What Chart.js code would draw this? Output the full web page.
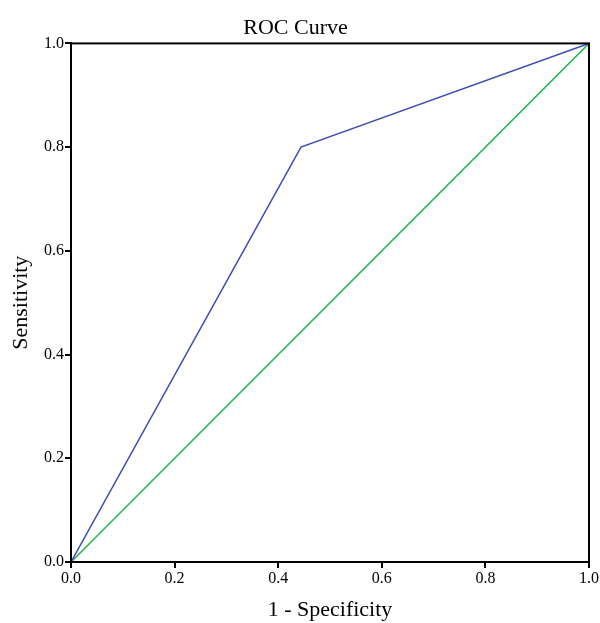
<!DOCTYPE html>
<html>
<head>
<meta charset="utf-8">
<script src="https://cdn.jsdelivr.net/npm/chart.js@4"></script>
<style>
  html, body { margin: 0; padding: 0; background: #fff; }
  #wrap { width: 600px; height: 623px; }
</style>
</head>
<body>
<div id="wrap"><canvas id="rocChart"></canvas></div>
<script>
// ROC curve data
const fpr = [0, 0.444, 1];          // 1 - Specificity
const tpr = [0, 0.8, 1];            // Sensitivity
const refX = [0, 1];                // diagonal reference
const refY = [0, 1];
const tickValues = [0, 0.2, 0.4, 0.6, 0.8, 1.0];

const FONT = "'Liberation Serif', 'DejaVu Serif', serif";

const frame = {
  id: 'frame',
  afterDraw(chart) {
    const a = chart.chartArea, c = chart.ctx;
    c.save();
    c.strokeStyle = '#000';
    c.lineWidth = 2;
    c.strokeRect(a.left, a.top, a.right - a.left, a.bottom - a.top);
    c.restore();
  }
};

new Chart(document.getElementById('rocChart'), {
  type: 'scatter',
  data: {
    datasets: [
      {
        label: 'ROC',
        data: fpr.map((x, i) => ({ x: x, y: tpr[i] })),
        showLine: true,
        borderColor: '#3f4cb3',
        borderWidth: 1.5,
        pointRadius: 0,
        order: 1
      },
      {
        label: 'Reference',
        data: refX.map((x, i) => ({ x: x, y: refY[i] })),
        showLine: true,
        borderColor: '#22b14c',
        borderWidth: 1.5,
        pointRadius: 0,
        order: 2
      }
    ]
  },
  options: {
    responsive: true,
    maintainAspectRatio: false,
    animation: false,
    layout: { padding: { left: 0, right: 9, top: 0, bottom: 0 } },
    plugins: {
      legend: { display: false },
      tooltip: { enabled: false },
      title: {
        display: true,
        text: 'ROC Curve',
        color: '#000',
        font: { family: FONT, size: 22, weight: 'normal' },
        padding: { top: 15, bottom: 2 }
      }
    },
    scales: {
      x: {
        type: 'linear',
        min: 0, max: 1,
        afterBuildTicks: s => { s.ticks = tickValues.map(v => ({ value: v })); },
        afterFit: s => { s.height = 61; },
        ticks: {
          color: '#000',
          font: { family: FONT, size: 16 },
          padding: 1,
          maxRotation: 0,
          callback: v => v.toFixed(1)
        },
        grid: { drawOnChartArea: false, drawTicks: true, tickLength: 6, color: '#000', lineWidth: 2 },
        border: { display: true, color: '#000', width: 2 },
        title: {
          display: true,
          text: '1 - Specificity',
          color: '#000',
          font: { family: FONT, size: 22 },
          padding: { top: 8, bottom: 0 }
        }
      },
      y: {
        type: 'linear',
        min: 0, max: 1,
        afterBuildTicks: s => { s.ticks = tickValues.map(v => ({ value: v })); },
        afterFit: s => { s.width = 71; },
        ticks: {
          color: '#000',
          font: { family: FONT, size: 16 },
          padding: 1,
          callback: v => v.toFixed(1)
        },
        grid: { drawOnChartArea: false, drawTicks: true, tickLength: 6, color: '#000', lineWidth: 2 },
        border: { display: true, color: '#000', width: 2 },
        title: {
          display: true,
          text: 'Sensitivity',
          color: '#000',
          font: { family: FONT, size: 22 },
          padding: { top: 8, bottom: 4 }
        }
      }
    }
  },
  plugins: [frame]
});
</script>
</body>
</html>
